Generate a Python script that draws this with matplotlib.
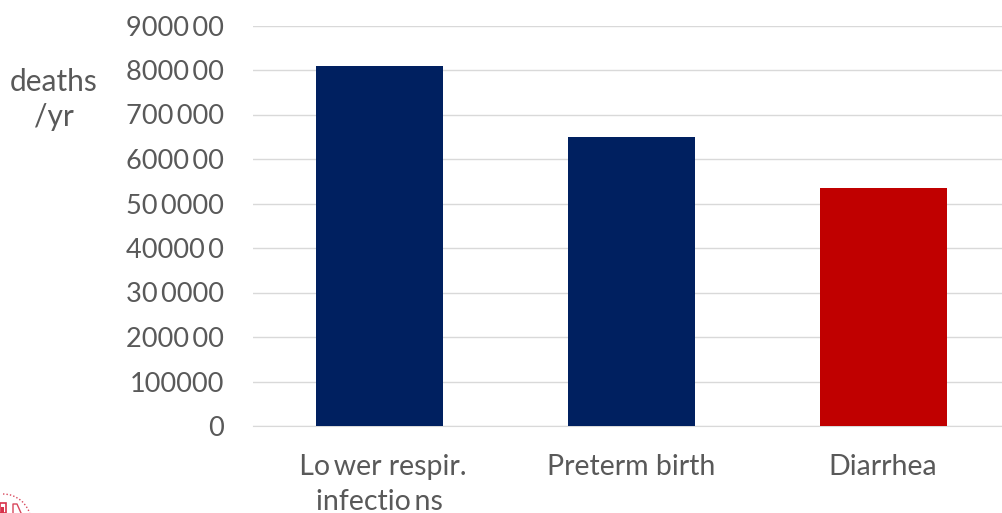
import matplotlib
matplotlib.use("Agg")
import matplotlib.pyplot as plt
from matplotlib.patches import Arc, Rectangle

GAP = "\u2009"
categories = [f"{GAP}{GAP}Lo{GAP}wer respir.\ninfectio{GAP}ns", "Preterm birth", "Diarrhea"]
deaths = [810000, 650000, 535000]
bar_colors = ["#002060", "#002060", "#C00000"]
tick_values = [0, 100000, 200000, 300000, 400000, 500000, 600000, 700000, 800000, 900000]
tick_labels = ["0", "100000", f"2000{GAP}00", f"30{GAP}0000", f"40000{GAP}0", f"50{GAP}0000",
               f"6000{GAP}00", f"700{GAP}000", f"8000{GAP}00", f"9000{GAP}00"]

plt.rcParams["font.family"] = ["Lato", "DejaVu Sans"]
W, H = 1003, 513
fig = plt.figure(figsize=(W / 100, H / 100), dpi=100)
# The plot area runs slightly past the right edge of the figure.
ax = fig.add_axes([253 / W, 1 - 426 / H, 756 / W, (426 - 25.5) / H])

ax.bar(range(3), deaths, width=127 / 252, color=bar_colors, zorder=3)
ax.set_xlim(-0.5, 2.5)
ax.set_ylim(0, 900000)
ax.set_yticks(tick_values, tick_labels)
ax.set_xticks(range(3), categories)
ax.grid(axis="y", color="#D9D9D9", linewidth=1, zorder=0)
ax.tick_params(axis="y", length=0, labelsize=19.5, labelcolor="#595959", pad=21)
ax.tick_params(axis="x", length=0, labelsize=20.5, labelcolor="#595959", pad=20)
for label in ax.get_xticklabels():
    label.set_linespacing(1.44)
for s in ["top", "right", "left"]:
    ax.spines[s].set_visible(False)
ax.spines["bottom"].set_color("#D9D9D9")

fig.text(54 / W, 1 - 99.5 / H, "deaths\n/yr", ha="center", va="center",
         fontsize=21.5, color="#595959", linespacing=1.3)

# Corner of the red seal at the bottom left
overlay = fig.add_axes([0, 0, 1, 1], facecolor="none")
overlay.set_xlim(0, W)
overlay.set_ylim(H, 0)
overlay.axis("off")
overlay.add_patch(Arc((3, 522), 56, 56, theta1=270, theta2=350, color="#D8475C",
                      linewidth=1, linestyle=(0, (1, 1.5))))
overlay.add_patch(Rectangle((0, 503), 6, 10, facecolor="none", edgecolor="#D8314A", linewidth=1.2))
overlay.add_patch(Rectangle((1, 507), 3, 6, facecolor="#D8314A", edgecolor="none"))
overlay.plot([13, 13, 17, 21], [513, 504, 504, 513], color="#D8475C", linewidth=1)

fig.savefig("out.png", dpi=100)
